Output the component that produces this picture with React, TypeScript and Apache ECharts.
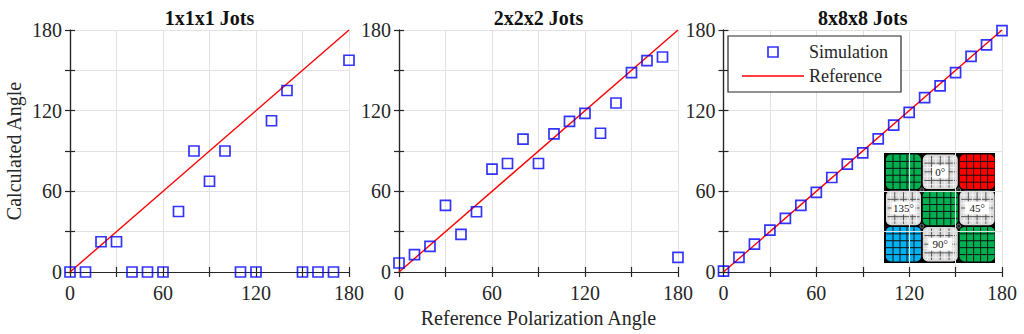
import React, { useEffect, useRef } from 'react';
import * as echarts from 'echarts';

// ---- data ----
const angles = [0, 10, 20, 30, 40, 50, 60, 70, 80, 90, 100, 110, 120, 130, 140, 150, 160, 170, 180];
const sim1x1x1 = [0, 0, 22.5, 22.5, 0, 0, 0, 45, 90, 67.5, 90, 0, 0, 112.5, 135, 0, 0, 0, 157.5];
const sim2x2x2 = [6.7, 12.9, 19.1, 49.5, 28, 44.8, 76.5, 80.7, 98.8, 80.7, 102.7, 112.1, 118, 103.2, 125.7, 148.3, 157.2, 159.9, 10.9];
const sim8x8x8 = [0.7, 10.9, 20.8, 31.2, 39.9, 49.5, 59.2, 70.3, 80.2, 88.6, 99, 109.2, 118.8, 129.7, 138.4, 148.3, 160.4, 169, 179.5];
const refX = [0, 180];
const refY = [0, 180];
const panelTitles = ['1x1x1 Jots', '2x2x2 Jots', '8x8x8 Jots'];
const axisMin = 0;
const axisMax = 180;
const gridStep = 30;
const labelStep = 60;
const insetLabels = ['0°', '135°', '45°', '90°'];

const FONT = 'Liberation Serif';
const DARK = '#262626';

const sims = [sim1x1x1, sim2x2x2, sim8x8x8];
const panels = [
  { left: 70, right: 349 },
  { left: 399, right: 678 },
  { left: 723.5, right: 1002 },
];
const gridTop = 30;
const gridBottom = 272;

function buildInset() {
  const children: any[] = [];
  const x0 = 884;
  const y0 = 153;
  const W = 111;
  const H = 110;
  children.push({ type: 'rect', shape: { x: x0, y: y0, width: W, height: H }, style: { fill: '#000' } });
  const bw = 35;
  const bh = 34.6;
  const gx = 1.8;
  const gy = 1.6;
  const colors = [
    ['#00b050', 'gray', '#ff0000'],
    ['gray', '#00b050', 'gray'],
    ['#00b0f0', 'gray', '#00b050'],
  ];
  const labelPos: Record<string, string> = { '0,1': insetLabels[0], '1,0': insetLabels[1], '1,2': insetLabels[2], '2,1': insetLabels[3] };
  for (let r = 0; r < 3; r++) {
    for (let c = 0; c < 3; c++) {
      const bx = x0 + 2 + c * (bw + gx);
      const by = y0 + 1.5 + r * (bh + gy);
      const col = colors[r][c];
      const isGray = col === 'gray';
      children.push({
        type: 'rect',
        shape: { x: bx, y: by, width: bw, height: bh, r: 5 },
        style: { fill: isGray ? '#d9d9d9' : col },
      });
      if (isGray) {
        for (let k = 1; k < 8; k++) {
          const light = k % 2 === 1;
          const lx = bx + (bw * k) / 8;
          const ly = by + (bh * k) / 8;
          const stroke = light ? '#f6f6f6' : '#4a4a4a';
          children.push({ type: 'line', shape: { x1: lx, y1: by + 1.5, x2: lx, y2: by + bh - 1.5 }, style: { stroke, lineWidth: light ? 0.9 : 0.9 } });
          children.push({ type: 'line', shape: { x1: bx + 1.5, y1: ly, x2: bx + bw - 1.5, y2: ly }, style: { stroke, lineWidth: light ? 0.9 : 0.9 } });
        }
      } else {
        for (let k = 1; k < 5; k++) {
          const lx = bx + (bw * k) / 5;
          const ly = by + (bh * k) / 5;
          children.push({ type: 'line', shape: { x1: lx, y1: by, x2: lx, y2: by + bh }, style: { stroke: '#111', lineWidth: 1 } });
          children.push({ type: 'line', shape: { x1: bx, y1: ly, x2: bx + bw, y2: ly }, style: { stroke: '#111', lineWidth: 1 } });
        }
      }
      const lab = labelPos[`${r},${c}`];
      if (lab) {
        const lw = lab.length > 2 ? 24 : 16;
        children.push({
          type: 'rect',
          shape: { x: bx + bw / 2 - lw / 2, y: by + bh / 2 - 6.5, width: lw, height: 13 },
          style: { fill: '#fff' },
        });
        children.push({
          type: 'text',
          x: bx + bw / 2,
          y: by + bh / 2,
          style: { text: lab, fontFamily: FONT, fontSize: 11, fill: '#111', align: 'center', verticalAlign: 'middle' },
        });
      }
    }
  }
  for (let r = 0; r <= 3; r++) {
    for (let c = 0; c <= 3; c++) {
      if (r === 0 || r === 3 || c === 0 || c === 3) continue;
      const cx = x0 + 2 + c * (bw + gx) - gx / 2;
      const cy = y0 + 1.5 + r * (bh + gy) - gy / 2;
      children.push({ type: 'circle', shape: { cx, cy, r: 2 }, style: { fill: '#222', stroke: '#aaa', lineWidth: 0.6 } });
    }
  }
  return { type: 'group', children };
}

export default function App() {
  const ref = useRef<HTMLDivElement>(null);
  useEffect(() => {
    const chart = echarts.init(ref.current!, null, { renderer: 'svg' });
    const labelFmt = (v: number) => (v % labelStep === 0 ? String(v) : '');
    const axisLineStyle = { color: DARK, width: 1.2 };
    const grid = panels.map((p) => ({
      left: p.left,
      width: p.right - p.left,
      top: gridTop,
      height: gridBottom - gridTop,
      containLabel: false,
    }));
    const xAxis: any[] = [];
    const yAxis: any[] = [];
    panels.forEach((_, i) => {
      xAxis.push({
        type: 'value',
        gridIndex: i,
        min: axisMin,
        max: axisMax,
        interval: gridStep,
        position: 'bottom',
        axisLine: { show: true, lineStyle: axisLineStyle },
        axisTick: { show: true, inside: true, length: 5, lineStyle: axisLineStyle },
        axisLabel: { formatter: labelFmt, margin: 11, fontSize: 20, color: DARK, fontFamily: FONT },
        splitLine: { show: true, lineStyle: { color: '#e2e2e2', width: 1 } },
        name: i === 1 ? 'Reference Polarization Angle' : '',
        nameLocation: 'middle',
        nameGap: 35,
        nameTextStyle: { fontSize: 20, color: DARK, fontFamily: FONT },
      });
      yAxis.push({
        type: 'value',
        gridIndex: i,
        min: axisMin,
        max: axisMax,
        interval: gridStep,
        position: 'left',
        axisLine: { show: true, lineStyle: axisLineStyle },
        axisTick: { show: true, inside: true, length: 5, lineStyle: axisLineStyle },
        axisLabel: { formatter: labelFmt, margin: 8, fontSize: 20, color: DARK, fontFamily: FONT },
        splitLine: { show: true, lineStyle: { color: '#e2e2e2', width: 1 } },
        name: i === 0 ? 'Calculated Angle' : '',
        nameLocation: 'middle',
        nameGap: 46,
        nameTextStyle: { fontSize: 20, color: DARK, fontFamily: FONT },
      });
    });
    panels.forEach((_, i) => {
      xAxis.push({
        type: 'value',
        gridIndex: i,
        min: axisMin,
        max: axisMax,
        interval: gridStep,
        position: 'top',
        axisLine: { show: true, lineStyle: axisLineStyle },
        axisTick: { show: true, inside: true, length: 5, lineStyle: axisLineStyle },
        axisLabel: { show: false },
        splitLine: { show: false },
      });
      yAxis.push({
        type: 'value',
        gridIndex: i,
        min: axisMin,
        max: axisMax,
        interval: gridStep,
        position: 'right',
        axisLine: { show: true, lineStyle: axisLineStyle },
        axisTick: { show: true, inside: true, length: 5, lineStyle: axisLineStyle },
        axisLabel: { show: false },
        splitLine: { show: false },
      });
    });
    const series: any[] = [];
    panels.forEach((_, i) => {
      series.push({
        type: 'line',
        name: 'Reference',
        xAxisIndex: i,
        yAxisIndex: i,
        data: refX.map((x, k) => [x, refY[k]]),
        symbol: 'none',
        lineStyle: { color: '#ff0000', width: 1.4 },
        itemStyle: { color: '#ff0000' },
        silent: true,
        z: 2,
      });
      series.push({
        type: 'scatter',
        name: 'Simulation',
        xAxisIndex: i,
        yAxisIndex: i,
        data: angles.map((a, k) => [a, sims[i][k]]),
        symbol: 'rect',
        symbolSize: 10,
        itemStyle: { color: 'rgba(0,0,0,0)', borderColor: '#0000ff', borderWidth: 1.7 },
        silent: true,
        z: 3,
      });
    });
    const title = panels.map((p, i) => ({
      text: panelTitles[i],
      left: (p.left + p.right) / 2,
      textAlign: 'center',
      top: 8,
      padding: 0,
      textStyle: { fontFamily: FONT, fontSize: 20, fontWeight: 'bold', color: '#111' },
    }));
    chart.setOption({
      animation: false,
      backgroundColor: '#fff',
      textStyle: { fontFamily: FONT },
      title,
      grid,
      xAxis,
      yAxis,
      series,
      legend: {
        left: 728,
        top: 36,
        orient: 'vertical',
        data: [
          {
            name: 'Simulation',
            icon: 'path://M0,0L10,0L10,10L0,10Z',
            itemStyle: { color: 'rgba(0,0,0,0)', borderColor: '#0000ff', borderWidth: 1.7 },
          },
          {
            name: 'Reference',
            icon: 'path://M0,0L62,0L62,1.6L0,1.6Z',
            itemStyle: { color: '#ff0000', borderWidth: 0 },
          },
        ],
        symbolKeepAspect: true,
        itemWidth: 62,
        itemHeight: 10,
        itemGap: 6,
        padding: [7, 13, 7, 14],
        borderColor: DARK,
        borderWidth: 1.2,
        borderRadius: 0,
        backgroundColor: '#fff',
        selectedMode: false,
        textStyle: { fontSize: 18, lineHeight: 18, fontFamily: FONT, color: DARK },
      },
      graphic: [buildInset()],
    });
    return () => chart.dispose();
  }, []);
  return <div ref={ref} style={{ position: 'fixed', left: 0, top: 0, width: 1024, height: 334 }} />;
}
